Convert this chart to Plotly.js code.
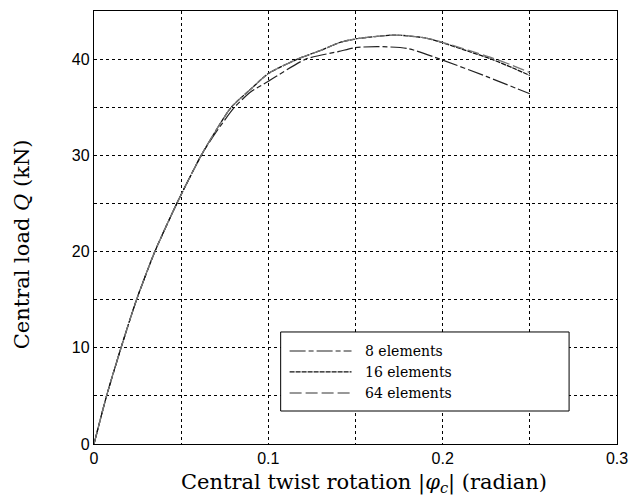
<!DOCTYPE html>
<html>
<head>
<meta charset="utf-8">
<script src="https://cdn.plot.ly/plotly-3.0.1.min.js"></script>
<style>html,body{margin:0;padding:0;background:#fff}#chart{width:631px;height:495px}</style>
</head>
<body>
<div id="chart"></div>
<script>
// Central twist rotation |phi_c| (radian)
var x8  = [0, 0.0072, 0.0155, 0.0244, 0.0349, 0.0475, 0.0615, 0.07, 0.0806, 0.09, 0.1, 0.1215, 0.1406, 0.15, 0.1634, 0.18, 0.2, 0.225, 0.25];
var q8  = [0, 5, 10, 15, 20, 25, 30, 32.4, 35, 36.6, 37.7, 40, 40.8, 41.2, 41.3, 41.1, 39.9, 38.2, 36.4];
var x16 = [0, 0.0072, 0.0155, 0.0244, 0.0349, 0.0475, 0.0615, 0.07, 0.0787, 0.09, 0.1, 0.1167, 0.13, 0.1406, 0.15, 0.1724, 0.19, 0.2, 0.215, 0.228, 0.24, 0.25];
var q16 = [0, 5, 10, 15, 20, 25, 30, 32.6, 35, 36.9, 38.5, 40, 40.9, 41.7, 42.1, 42.5, 42.2, 41.7, 40.8, 40.0, 39.1, 38.3];
var x64 = [0, 0.0072, 0.0155, 0.0244, 0.0349, 0.0475, 0.0615, 0.07, 0.0787, 0.09, 0.1, 0.1167, 0.13, 0.1406, 0.15, 0.1724, 0.19, 0.2, 0.215, 0.228, 0.24, 0.25];
var q64 = [0, 5, 10, 15, 20, 25, 30, 32.6, 35, 36.9, 38.5, 40, 40.9, 41.7, 42.1, 42.5, 42.2, 41.75, 40.9, 40.15, 39.35, 38.6];
var seriesNames = ["8 elements", "16 elements", "64 elements"];
var xTicks = [0, 0.1, 0.2, 0.3];
var xTickText = ["0", "0.1", "0.2", "0.3"];
var yTicks = [0, 10, 20, 30, 40];
var yTickText = ["0", "10", "20", "30", "40"];
var xTitle = "Central twist rotation |<i>φ<sub>c</sub></i>| (radian)";
var yTitle = "Central load <i>Q</i> (kN)";

var styles = [
  {color: "#222", width: 1.2, dash: "16px,3px,5px,3px"},
  {color: "#111", width: 1.3, dash: "5px,1px"},
  {color: "#777", width: 1.3, dash: "12px,4px"}
];
var xs = [x8, x16, x64], qs = [q8, q16, q64];

var traces = xs.map(function (xx, i) {
  return {x: xx, y: qs[i], name: seriesNames[i], mode: "lines",
          line: {color: styles[i].color, width: styles[i].width, dash: styles[i].dash, shape: "spline", smoothing: 0.6}};
});

var serif = "DejaVu Serif, Liberation Serif, serif";

// manual legend box (paper coordinates)
var shapes = [{type: "rect", xref: "paper", yref: "paper", x0: 0.3569, x1: 0.9084, y0: 0.0762, y1: 0.2587,
               line: {color: "#000", width: 1}, fillcolor: "#fff", layer: "above"}];
var annotations = [];
var rowY = [0.2148, 0.1664, 0.1178];
seriesNames.forEach(function (n, i) {
  shapes.push({type: "line", xref: "paper", yref: "paper", x0: 0.374, x1: 0.4924, y0: rowY[i], y1: rowY[i],
               line: {color: styles[i].color, width: styles[i].width, dash: styles[i].dash}, layer: "above"});
  annotations.push({xref: "paper", yref: "paper", x: 0.5134, y: rowY[i], xanchor: "left", yanchor: "middle",
                    text: n, showarrow: false,
                    font: {family: serif, size: 14, color: "#000"}});
});
// axis titles
annotations.push({xref: "paper", yref: "paper", x: 0.516, y: -0.09, xanchor: "center", yanchor: "middle",
                  text: xTitle, showarrow: false, font: {family: serif, size: 21, color: "#000"}});
annotations.push({xref: "paper", yref: "paper", x: -0.137, y: 0.462, xanchor: "center", yanchor: "middle",
                  textangle: -90, text: yTitle, showarrow: false, font: {family: serif, size: 21, color: "#000"}});

var layout = {
  width: 631, height: 495,
  margin: {l: 94, r: 14, t: 11, b: 51},
  paper_bgcolor: "#fff", plot_bgcolor: "#fff",
  showlegend: false,
  shapes: shapes,
  annotations: annotations,
  xaxis: {
    range: [0, 0.3], tickvals: xTicks, ticktext: xTickText,
    showgrid: true, gridcolor: "#000", gridwidth: 1, griddash: "3px,3px",
    minor: {dtick: 0.05, showgrid: true, gridcolor: "#000", gridwidth: 1, griddash: "3px,3px"},
    showline: true, mirror: true, linecolor: "#000", linewidth: 1.2,
    zeroline: false, ticks: "",
    tickfont: {family: "Liberation Sans, Arial, sans-serif", size: 16, color: "#000"}
  },
  yaxis: {
    range: [0, 45], tickvals: yTicks, ticktext: yTickText,
    showgrid: true, gridcolor: "#000", gridwidth: 1, griddash: "3px,3px",
    minor: {dtick: 5, showgrid: true, gridcolor: "#000", gridwidth: 1, griddash: "3px,3px"},
    showline: true, mirror: true, linecolor: "#000", linewidth: 1.2,
    zeroline: false, ticks: "",
    tickfont: {family: "Liberation Sans, Arial, sans-serif", size: 16, color: "#000"}
  }
};

Plotly.newPlot("chart", traces, layout, {displayModeBar: false, staticPlot: true});
</script>
</body>
</html>
